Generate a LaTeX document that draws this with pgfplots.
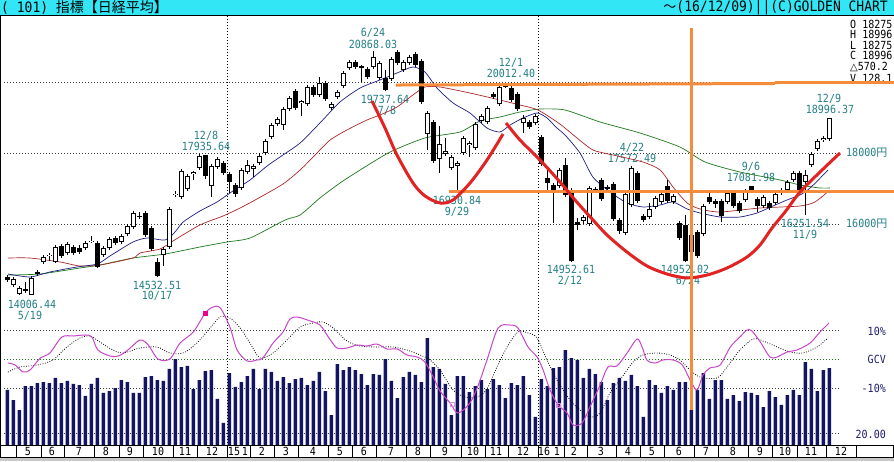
\documentclass[border=0pt]{standalone}
\usepackage{pgfplots}
\pgfplotsset{compat=1.18}
\usepackage{pgfplotstable}
\usepackage{graphicx}
\usepackage{fontspec}
\setmainfont{DejaVu Sans}
\newfontfamily\mono{DejaVu Sans Mono}
\newfontfamily\cjk{Noto Sans CJK JP}
\definecolor{hdr}{RGB}{50,230,245}
\definecolor{tealc}{RGB}{35,128,135}
\definecolor{navyb}{RGB}{20,20,100}
\definecolor{mablue}{RGB}{30,30,130}
\definecolor{mared}{RGB}{170,40,40}
\definecolor{magreen}{RGB}{30,120,30}
\definecolor{gcvc}{RGB}{200,70,200}
\definecolor{orng}{RGB}{245,140,60}
\definecolor{redc}{RGB}{225,35,35}
\definecolor{gridc}{RGB}{60,60,60}
\definecolor{lblnavy}{RGB}{30,30,110}
\newcommand\lb[1]{\scalebox{1}[1.12]{\mono\fontsize{10}{10}\selectfont #1}}

\pgfplotstableread{
i O H L C
1 14282 14507 14225 14451
2 14028 14254 14000 14197
4 14006 14535 14006 14479
5 14592 14704 14535 14648
6 14930 15127 14873 15070
7 15085 15183 14958 15127
8 14930 15408 14901 15352
10 15183 15493 15127 15437
13 15324 15521 15268 15465
14 15493 15662 15465 15535
16 15127 15380 15070 15324
17 15324 15634 15268 15577
19 15493 15718 15437 15662
20 15718 16000 15662 15944
21 15915 16366 15859 16310
26 15127 15352 14817 15296
27 15352 16479 15296 16423
28 16817 16930 16761 16859
29 16761 17549 16704 17493
30 16986 17408 16930 17352
31 17408 17493 17239 17451
32 17577 17972 17521 17915
34 17070 17690 16761 17634
35 17606 17887 17549 17831
39 17014 17577 16958 17521
40 17465 17803 17408 17662
41 17549 17690 17324 17634
42 17718 18000 17662 17915
43 18000 18394 17944 18338
44 18451 18845 18394 18789
45 18817 19014 18761 18958
46 18789 19296 18648 19239
47 19239 19606 19183 19549
49 19408 19493 19042 19451
50 19380 19915 19324 19859
52 19634 20141 19577 19972
54 19268 19437 19211 19380
55 19577 19775 19521 19718
56 19887 20310 19831 20254
57 20394 20620 20338 20563
61 20423 20868 20366 20704
62 20113 20592 20056 20535
64 20085 20704 20028 20648
66 20338 20620 20282 20563
67 20535 20761 20479 20704
70 18535 19183 18085 19127
72 17831 18761 17437 18254
73 17972 18423 17915 18056
74 17577 17944 17521 17887
75 17634 17775 16930 17718
76 18000 18479 17944 18423
77 18225 18338 17887 18282
78 18141 18873 18085 18817
79 18901 19099 18845 19042
80 18873 19324 18817 19268
82 19380 19915 19324 19859
86 18845 19070 18563 18986
88 18845 19099 18789 19042
92 17070 17577 17014 17521
96 16085 16254 16000 16197
97 16000 17070 15944 17014
100 16986 17099 16930 17042
103 15746 16901 15690 16845
104 16535 17634 16479 17577
107 16197 16592 16141 16423
108 16479 16789 16423 16732
109 16620 16901 16563 16845
111 16620 16845 16563 16789
114 15211 15746 15155 15690
116 15718 16563 15662 16507
120 16620 16930 16563 16873
123 16676 16986 16620 16930
126 16507 16817 16451 16761
128 16592 16901 16535 16845
130 16958 17239 16901 17183
131 17239 17493 17183 17437
133 17183 17521 16252 17380
134 17662 18028 17606 17972
135 18113 18394 18056 18338
136 18366 18479 18310 18423
137 18394 18996 18338 18996
}\tblUp

\pgfplotstableread{
i O H L C
0 14507 14563 14366 14423
3 14169 14366 14056 14113
9 15380 15437 15042 15099
11 15352 15408 15127 15183
12 15324 15408 15155 15211
15 15465 15521 14761 14789
18 15606 15662 15408 15465
22 16239 16338 16141 16197
23 16310 16366 15634 15690
24 15887 15944 15239 15296
25 14930 15042 14507 14533
33 17935 17935 17268 17352
36 17718 17775 17380 17437
37 17408 17465 16873 17183
38 17099 17155 16761 16845
48 19746 19803 19211 19268
51 19859 19915 19577 19634
53 19972 20028 19465 19521
58 20563 20620 20366 20423
59 20437 20479 20000 20394
60 20366 20423 20085 20141
63 20113 20338 19738 19775
65 20845 20901 20479 20535
68 20789 20845 20423 20479
69 20592 20648 19380 19437
71 18873 18930 17718 17775
81 19662 19718 19521 19577
83 19915 19944 19831 19873
84 19831 20012 19437 19493
85 19662 19718 19183 19239
87 18873 18930 18676 18732
89 18451 18507 17634 17690
90 17296 17521 16958 17155
91 17099 17155 16028 16958
93 17662 17859 16761 16817
94 16958 17014 14940 14953
95 16056 16169 15831 15972
98 16986 17042 16873 16930
99 17239 17296 16648 16704
101 17127 17183 16085 16141
102 16113 16169 15718 15803
105 17437 17493 16592 16648
106 16225 16282 16056 16113
110 17070 17239 16592 16648
112 16028 16085 15549 15606
113 15972 16254 14940 14952
115 15775 15831 15042 15099
117 16761 16873 16563 16620
118 16648 16704 16451 16563
119 16648 16704 16056 16225
121 16873 16930 16451 16507
122 16592 16648 16310 16366
124 17070 17082 16901 16958
125 16704 16761 16338 16507
127 16592 16648 16394 16451
129 16930 17014 16817 16873
132 17437 17493 16873 16930
}\tblDn

\pgfplotstableread{
x y
0.1 14592
3.8 14507
7.1 14648
11.6 14789
15.0 14873
17.1 15099
20.95 15493
23.3 15606
26.3 15549
27.95 15775
29.3 16056
32.1 16366
34.95 16620
37.6 16930
40.45 17239
43.3 17634
45.45 17887
48.8 18282
52.1 18845
55.45 19437
58.8 19831
62.1 20056
64.95 20254
67.6 20423
69.6 20282
71.6 19831
74.3 19408
77.1 19127
79.95 18704
82.1 18592
83.8 18789
85.95 18986
88.3 19127
89.95 18986
91.6 18704
92.95 18507
95.45 18000
97.6 17324
100.45 16901
103.3 16592
105.95 16479
108.8 16535
110.95 16620
113.3 16423
115.45 16310
118.8 16197
122.1 16197
124.95 16310
127.6 16507
129.95 16676
132.1 16817
133.8 17014
136.8 17521
}\tblMaBlue

\pgfplotstableread{
x y
0.1 15042
3.8 15042
8.8 14930
12.1 14817
15.45 14845
20.95 15042
22.1 15183
25.45 15296
27.6 15521
32.1 15972
35.95 16225
38.8 16451
41.6 16704
45.95 17127
48.8 17521
51.3 17944
53.8 18366
56.6 18648
59.95 18930
62.1 19070
64.95 19296
67.6 19634
69.6 19859
72.1 19859
77.1 19690
82.1 19493
85.45 19352
88.45 19211
92.1 18817
94.95 18423
97.6 18085
100.95 17944
105.95 17746
108.8 17521
110.95 17042
113.3 16592
115.45 16423
118.8 16338
125.45 16451
132.1 16507
134.6 16620
137.1 16958
}\tblMaRed

\pgfplotstableread{
x y
0.1 14563
5.45 14592
12.1 14761
15.45 14845
20.95 15042
26.3 15155
32.1 15352
36.6 15493
40.45 15606
46.3 16113
48.8 16254
52.1 16732
55.45 17155
58.8 17521
63.8 18028
69.6 18423
75.45 18592
78.8 18901
82.1 19014
85.45 19155
88.8 19239
92.95 19211
98.8 18873
105.45 18563
112.1 18169
116.3 17746
122.1 17465
128.8 17239
132.1 17099
135.45 17014
137.1 17014
}\tblMaGreen

\pgfplotstableread{
i v
0 91.7
1 75.0
2 58.3
3 98.3
4 98.3
5 103.3
6 105.0
7 103.3
8 111.7
9 103.3
10 106.7
11 101.7
12 100.0
13 81.7
14 101.7
15 111.7
16 86.7
17 90.0
18 95.0
19 108.3
20 105.0
21 86.7
22 86.7
23 113.3
24 115.0
25 108.3
26 106.7
27 126.7
28 143.3
29 130.0
30 131.7
31 93.3
32 108.3
33 123.3
34 125.0
35 76.7
36 36.7
37 120.0
38 96.7
39 105.0
40 115.0
41 126.7
42 93.3
43 126.7
44 121.7
45 106.7
46 113.3
47 103.3
48 110.0
49 111.7
50 100.0
51 106.7
52 121.7
53 90.0
54 50.0
55 135.0
56 125.0
57 130.0
58 125.0
59 118.3
60 100.0
61 118.3
62 116.7
63 143.3
64 106.7
65 78.3
66 113.3
67 121.7
68 116.7
69 105.0
70 178.3
71 130.0
72 126.7
73 101.7
74 50.0
75 115.0
76 115.0
77 88.3
78 98.3
79 108.3
80 93.3
81 110.0
82 100.0
83 78.3
84 103.3
85 100.0
86 115.0
87 83.3
88 46.7
89 110.0
90 98.3
91 128.3
92 130.0
93 158.3
94 145.0
95 141.7
96 111.7
97 126.7
98 118.3
99 105.0
100 75.0
101 103.3
102 111.7
103 106.7
104 116.7
105 98.3
106 46.7
107 108.3
108 100.0
109 86.7
110 98.3
111 91.7
112 105.0
113 105.0
114 58.3
115 91.7
116 120.0
117 76.7
118 108.3
119 108.3
120 76.7
121 83.3
122 73.3
123 88.3
124 86.7
125 83.3
126 63.3
127 90.0
128 80.0
129 66.7
130 83.3
131 91.7
132 83.3
133 138.3
134 126.7
135 90.0
136 125.0
137 128.1
}\tblVol

\pgfplotstableread{
x y
0.1 -1.38
1.3 -2.07
2.6 -4.48
3.8 -3.79
5.5 0.34
7.1 2.07
9.1 7.59
11.0 7.93
13.0 8.28
14.1 7.59
15.1 3.10
17.1 1.03
18.5 1.03
20.1 3.10
22.1 6.55
23.5 4.83
25.1 0.00
27.1 0.00
28.8 5.52
31.0 9.31
33.0 15.86
34.3 17.93
35.5 17.59
37.1 11.03
38.3 3.10
40.0 -0.69
41.6 -0.34
42.6 0.34
44.3 5.52
45.95 9.31
47.1 13.79
48.3 14.48
50.0 13.45
52.1 11.72
53.5 7.59
54.95 3.79
56.6 3.79
58.3 4.83
59.95 4.48
61.6 5.17
63.3 3.45
65.0 3.45
66.6 1.38
68.3 0.69
69.6 -1.03
71.0 -6.21
72.1 -11.0
73.8 -15.17
75.1 -18.62
77.1 -15.17
78.5 -8.97
79.95 -0.34
81.8 10.69
83.8 11.72
85.1 10.69
86.8 4.14
88.3 0.69
89.3 -3.79
90.45 -10.69
91.8 -15.86
93.3 -18.62
94.3 -22.76
95.8 -22.07
97.1 -16.55
98.8 -8.97
100.1 -2.76
101.6 -2.41
103.3 2.07
104.95 6.90
105.8 4.14
106.6 -0.34
107.95 -1.38
109.3 -0.34
110.95 -0.34
112.5 -2.07
113.8 -7.24
114.95 -10.69
115.95 -5.52
117.1 -3.10
118.8 -2.07
120.5 4.14
122.1 7.59
123.3 10.00
124.1 9.66
125.5 5.86
127.1 0.69
128.3 0.69
129.95 2.41
131.6 3.10
133.8 5.52
135.45 9.31
136.95 12.41
}\tblGcv

\pgfplotstableread{
x y
0.1 -4.48
2.1 -2.76
5.0 -2.07
7.6 -0.34
9.95 4.14
12.1 7.24
13.8 7.93
15.45 5.86
17.6 3.10
19.3 2.07
22.1 3.79
24.95 4.14
27.1 2.07
29.3 2.07
31.6 5.52
33.8 10.69
35.45 14.48
37.1 14.14
38.8 10.69
40.45 5.52
42.1 0.34
44.3 2.07
46.6 6.55
48.8 11.03
50.95 12.41
52.6 12.76
54.3 10.69
56.6 6.21
58.8 4.48
61.6 4.14
64.3 4.14
66.6 3.10
68.8 1.38
70.45 -0.34
72.1 -3.79
74.3 -10.69
76.3 -13.10
78.3 -13.10
79.95 -10.34
81.6 -2.76
83.3 4.14
85.1 9.31
86.8 8.97
88.3 7.24
89.95 -0.34
91.8 -7.93
93.8 -14.14
95.45 -17.59
97.1 -20.00
98.8 -18.62
100.45 -11.72
102.45 -6.21
104.3 -1.03
105.95 1.38
108.3 2.07
110.45 1.38
112.1 -0.34
113.8 -3.79
115.45 -6.21
118.3 -6.55
119.95 -2.76
122.1 3.10
124.3 6.90
125.95 6.21
128.3 4.14
130.45 2.41
132.6 2.07
134.95 4.14
136.8 7.24
}\tblSig

\pgfplotsset{base/.style={scale only axis, width=894pt, xmin=-1.2167, xmax=147.7833, hide axis, clip=false}}

\begin{document}
\begin{tikzpicture}
\path[use as bounding box] (0pt,0pt) rectangle (894pt,-461pt);
\begin{scope}[x=1pt,y=-1pt]
 \fill[white] (0,0) rectangle (894,461);
 \fill[hdr] (0,0) rectangle (894,15);
 \draw[black,line width=1pt] (0,15.5) -- (894,15.5);
 \draw[black,line width=1.2pt] (0.6,15) -- (0.6,445);
 \foreach \yy in {82,153,224,330,388,433}
   \draw[gridc,line width=0.8pt,dash pattern=on 0.8pt off 2.2pt] (4,\yy) -- (840,\yy);
 \draw[magreen,line width=0.8pt,dash pattern=on 0.8pt off 2.2pt] (4,359) -- (840,359);
 \foreach \xx in {227,538}
   \draw[black,line width=0.8pt,dash pattern=on 0.8pt off 2.2pt] (\xx,16) -- (\xx,445);
 % header texts
 \node[anchor=west,inner sep=0pt] at (1,8) {\scalebox{1}[1.1]{\mono\fontsize{13}{13}\selectfont( 101) }{\cjk\fontsize{14}{14}\selectfont 指標【日経平均】}};
 \node[anchor=east,inner sep=0pt] at (888,8) {{\cjk\fontsize{13}{13}\selectfont ～}\scalebox{1}[1.1]{\mono\fontsize{13}{13}\selectfont(16/12/09)||(C)GOLDEN CHART}};
 % OHLC block
 \node[anchor=west,inner sep=0pt] at (850,24) {\lb{O 18275}};
 \node[anchor=west,inner sep=0pt] at (850,34.5) {\lb{H 18996}};
 \node[anchor=west,inner sep=0pt] at (850,45) {\lb{L 18275}};
 \node[anchor=west,inner sep=0pt] at (850,55.5) {\lb{C 18996}};
 \node[anchor=west,inner sep=0pt] at (850,67) {{\rmfamily\fontsize{10}{10}\selectfont △}\lb{570.2}};
 \node[anchor=west,inner sep=0pt] at (850,78.5) {\lb{V 128.1}};
 % price marks
 \begin{scope}[every node/.style={text=tealc,inner sep=0pt}]
 \node at (373,33) {\lb{6/24}};
 \node at (373,44) {\lb{20868.03}};
 \node at (385,99.5) {\lb{19737.64}};
 \node at (387,111) {\lb{7/8}};
 \node at (206,135.5) {\lb{12/8}};
 \node at (206,146.5) {\lb{17935.64}};
 \node at (157,285) {\lb{14532.51}};
 \node at (157,296) {\lb{10/17}};
 \node at (32,304.5) {\lb{14006.44}};
 \node at (30,315.5) {\lb{5/19}};
 \node at (511,62.5) {\lb{12/1}};
 \node at (511,73.5) {\lb{20012.40}};
 \node at (457,200.5) {\lb{16930.84}};
 \node at (457,211.5) {\lb{9/29}};
 \node at (571,269.5) {\lb{14952.61}};
 \node at (570,280.5) {\lb{2/12}};
 \node at (632,147.5) {\lb{4/22}};
 \node at (632,158.5) {\lb{17572.49}};
 \node at (685,269.5) {\lb{14952.02}};
 \node at (688,280.5) {\lb{6/24}};
 \node at (751,166.5) {\lb{9/6}};
 \node at (751,177.5) {\lb{17081.98}};
 \node at (805,223.5) {\lb{16251.54}};
 \node at (805,234.5) {\lb{11/9}};
 \node at (829,98.5) {\lb{12/9}};
 \node at (830,109.5) {\lb{18996.37}};
 \node[anchor=west] at (846,153) {\lb{18000}{\cjk\fontsize{11}{11}\selectfont 円}};
 \node[anchor=west] at (846,224) {\lb{16000}{\cjk\fontsize{11}{11}\selectfont 円}};
 \end{scope}
 \begin{scope}[every node/.style={text=lblnavy,inner sep=0pt,anchor=east}]
 \node at (886,331) {\lb{10\%}};
 \node at (886,359) {\lb{GCV}};
 \node at (886,388) {\lb{-10\%}};
 \node at (886,434) {\lb{20.00}};
 \end{scope}
\end{scope}

% ---------------- price panel ----------------
\begin{axis}[base, height=290pt, at={(0pt,-305pt)}, anchor=south west, ymin=13718.3, ymax=21887.3]
\addplot[magreen, line width=0.7pt, smooth, tension=0.4] table {\tblMaGreen};
\addplot[mared, line width=0.7pt, smooth, tension=0.4] table {\tblMaRed};
\addplot[mablue, line width=0.7pt, smooth, tension=0.4] table {\tblMaBlue};
% wicks
\addplot[draw=none, mark=none, error bars/.cd, y dir=plus, y explicit, error mark=none,
  error bar style={draw=black, line width=1pt}] table[x=i, y=L, y error plus expr=\thisrow{H}-\thisrow{L}] {\tblUp};
\addplot[draw=none, mark=none, error bars/.cd, y dir=plus, y explicit, error mark=none,
  error bar style={draw=black, line width=1pt}] table[x=i, y=L, y error plus expr=\thisrow{H}-\thisrow{L}] {\tblDn};
% down bodies (black)
\addplot[draw=none, mark=none, error bars/.cd, y dir=plus, y explicit, error mark=none,
  error bar style={draw=black, line width=5pt}] table[x=i, y=C, y error plus expr=\thisrow{O}-\thisrow{C}] {\tblDn};
% up bodies (white with black outline)
\addplot[draw=none, mark=none, error bars/.cd, y dir=plus, y explicit, error mark=none,
  error bar style={draw=black, line width=5pt}] table[x=i, y=O, y error plus expr=\thisrow{C}-\thisrow{O}] {\tblUp};
\addplot[draw=none, mark=none, error bars/.cd, y dir=plus, y explicit, error mark=none,
  error bar style={draw=white, line width=3pt}] table[x=i, y expr=\thisrow{O}+28, y error plus expr=\thisrow{C}-\thisrow{O}-56] {\tblUp};
% hand-drawn annotations
\addplot[orng, line width=3pt] coordinates {(64.78,19915) (127.95,19958)};
\addplot[orng, line width=3pt] coordinates {(127.95,19986) (147.78,19986)};
\addplot[orng, line width=3pt] coordinates {(73.62,16910) (147.78,16910)};
\addplot[redc, line width=3pt, smooth] coordinates {(60.78,19465) (62.95,18704) (64.95,17944) (67.62,17155) (69.62,16789) (72.12,16592) (74.28,16676) (77.12,17155) (79.95,17803) (82.62,18535)};
\addplot[redc, line width=3pt, smooth] coordinates {(83.12,18845) (85.45,18366) (88.78,17803) (92.12,17183) (94.62,16676) (97.62,16113) (99.95,15690) (103.28,15211) (106.62,14817) (109.95,14592) (113.28,14479) (116.62,14563) (119.95,14761) (123.28,15070) (125.45,15408) (127.45,15887) (129.62,16338) (132.12,16901) (135.45,17465) (138.78,18000)};
\end{axis}

% ---------------- volume ----------------
\begin{axis}[base, height=140pt, at={(0pt,-445pt)}, anchor=south west, ymin=0, ymax=233.33]
\addplot[ybar, bar width=3.4pt, fill=navyb, draw=none] table[x=i, y=v] {\tblVol};
\end{axis}

% ---------------- GCV ----------------
\begin{axis}[base, height=140pt, at={(0pt,-445pt)}, anchor=south west, ymin=-29.655, ymax=18.621]
\addplot[black, line width=0.8pt, dash pattern=on 0.8pt off 1.6pt, smooth] table {\tblSig};
\addplot[gcvc, line width=1pt, smooth] table {\tblGcv};
\addplot[only marks, mark=square*, mark size=2.2pt, color=magenta] coordinates {(32.95,15.86)};
\addplot[only marks, mark=square, mark size=2pt, color=gcvc!60] coordinates {(74.12,-15.52) (91.78,-15.86)};
\addplot[orng, line width=3pt] coordinates {(114.07,114.14) (114.07,-17.59)};
\end{axis}

% ---------------- month band ----------------
\begin{scope}[x=1pt,y=-1pt]
 \fill[black!22] (0,457.5) rectangle (894,461);
 \draw[black,line width=1pt,fill=white] (0.5,445) rectangle (893.5,457.5);
 \foreach \xx in {16,41,64,94,119,143,173,197,227,250,274,298,328,352,376,406,430,461,485,508,538,564,587,616,640,664,694,718,748,772,797,826,856}
   \draw[black,line width=0.9pt] (\xx,445) -- (\xx,457.5);
 \foreach \xx/\mm in {28/5,52/6,79/7,106/8,130/9,158/10,185/11,212/12,234/15,245/1,262/2,286/3,313/4,340/5,364/6,391/7,418/8,445/9,473/10,496/11,523/12,544/16,557/1,574/2,601/3,628/4,652/5,679/6,706/7,733/8,760/9,785/10,811/11,841/12}
   \node[inner sep=0pt] at (\xx,451.2) {\lb{\mm}};
\end{scope}
\end{tikzpicture}
\end{document}
